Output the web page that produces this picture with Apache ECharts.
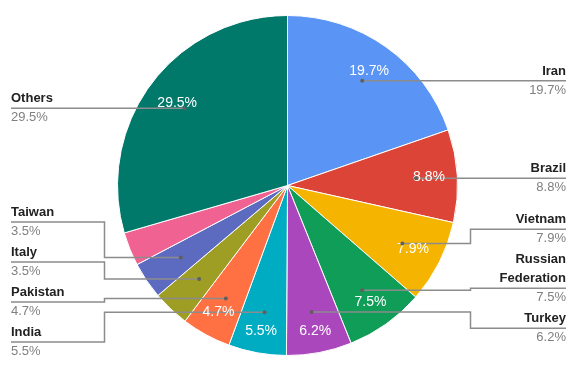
<!DOCTYPE html>
<html><head><meta charset="utf-8">
<script src="https://cdn.jsdelivr.net/npm/echarts@6/dist/echarts.min.js"></script>
<style>html,body{margin:0;padding:0;background:#fff}#c{width:581px;height:371px}</style>
</head><body><div id="c"></div>
<script>
var names = ['Iran','Brazil','Vietnam','Russian Federation','Turkey','India','Pakistan','Italy','Taiwan','Unlabeled','Others'];
var values = [19.7, 8.8, 7.9, 7.5, 6.2, 5.5, 4.7, 3.5, 3.5, 3.2, 29.5];
var colors = ['#5A95F5','#DB4437','#F4B400','#0F9D58','#AB47BC','#00ACC1','#FF7043','#9E9D24','#5C6BC0','#F06292','#00796B'];
var showLegendLabel = [true,true,true,true,true,true,true,true,true,false,true];
var showInsideLabel = [true,true,true,true,true,true,true,false,false,false,true];

var FONT = 'Arial, "Liberation Sans", sans-serif';
var CENTER = [287.5, 185.5];
var R = 170;
var LINE_H = 19;
var DOT_RATIO = 0.757;

var chart = echarts.init(document.getElementById('c'), null, {renderer: 'canvas'});

function nameLines(n){ return n.length > 12 ? n.split(' ') : [n]; }

function sliceGeom(i){
  var L = chart.getModel().getSeriesByIndex(0).getData().getItemLayout(i);
  var mid = (L.startAngle + L.endAngle) / 2;
  return {cx: L.cx, cy: L.cy, r: L.r, c: Math.cos(mid), s: Math.sin(mid)};
}

function computeLayout(){
  var W = chart.getWidth(), H = chart.getHeight();
  var right = [], left = [], all = {};
  for (var i = 0; i < values.length; i++){
    if (!showLegendLabel[i]) continue;
    var g = sliceGeom(i);
    var it = {
      dot: {x: g.cx + DOT_RATIO * g.r * g.c, y: g.cy + DOT_RATIO * g.r * g.s},
      nl: nameLines(names[i]).length,
      side: g.c >= 0 ? 'right' : 'left',
      cx: g.cx, r: g.r
    };
    (it.side === 'right' ? right : left).push(it);
    all[i] = it;
  }
  [right, left].forEach(function(arr){
    arr.sort(function(a,b){ return a.dot.y - b.dot.y; });
    var blocks = [];
    arr.forEach(function(it){
      blocks.push({items:[it], off:[0], y: it.dot.y});
      while (blocks.length > 1){
        var b2 = blocks[blocks.length-1], b1 = blocks[blocks.length-2];
        var gap = LINE_H + LINE_H * b2.items[0].nl + 2;
        var lastY = b1.y + b1.off[b1.off.length-1];
        if (b2.y - lastY >= gap) break;
        var base = b1.off[b1.off.length-1] + gap;
        b2.off.forEach(function(o){ b1.off.push(base + o); });
        b2.items.forEach(function(x){ b1.items.push(x); });
        var s = 0;
        b1.items.forEach(function(x,k){ s += x.dot.y - b1.off[k]; });
        b1.y = s / b1.items.length;
        blocks.pop();
      }
    });
    if (blocks.length){
      var lb = blocks[blocks.length-1];
      var bottom = lb.y + lb.off[lb.off.length-1] + LINE_H;
      if (bottom > H - 10) lb.y -= bottom - (H - 10);
    }
    blocks.forEach(function(b){ b.items.forEach(function(x,k){ x.lineY = b.y + b.off[k]; }); });
  });
  Object.keys(all).forEach(function(k){
    var it = all[k];
    if (it.side === 'right'){ it.end = W - 15; it.elbow = it.cx + it.r + 13; }
    else { it.end = 11; it.elbow = it.cx - it.r - 13; }
  });
  return all;
}

function seriesData(flags){
  return names.map(function(n,i){
    return {name: n, value: values[i], label: {show: flags[i]}};
  });
}

var ghost = {
  type: 'pie', center: CENTER, radius: [0, R], startAngle: 90, clockwise: true,
  silent: true, avoidLabelOverlap: false, emphasis: {disabled: true},
  itemStyle: {color: 'rgba(0,0,0,0)', borderWidth: 0}
};
function makeGhost(extra){ return Object.assign({}, ghost, extra); }

var option = {
  backgroundColor: '#ffffff',
  animation: false,
  series: [
    {
      type: 'pie', center: CENTER, radius: [0, R], startAngle: 90, clockwise: true,
      silent: true, emphasis: {disabled: true}, z: 1,
      itemStyle: {borderColor: '#ffffff', borderWidth: 1},
      label: {show: false}, labelLine: {show: false},
      data: names.map(function(n,i){ return {name: n, value: values[i], itemStyle: {color: colors[i]}}; })
    },
    makeGhost({
      z: 5,
      data: names.map(function(n,i){
        return {name: n, value: values[i], label: {show: showLegendLabel[i]}, labelLine: {show: showLegendLabel[i]}};
      }),
      label: {
        position: 'outside', fontFamily: FONT,
        formatter: function(p){
          return nameLines(p.name).map(function(l){ return '{n|' + l + '}'; }).join('\n') + '\n{v|' + p.value.toFixed(1) + '%}';
        },
        rich: {
          n: {fontFamily: FONT, fontSize: 13, fontWeight: 'bold', color: '#222222', lineHeight: LINE_H},
          v: {fontFamily: FONT, fontSize: 13, color: '#808080', lineHeight: LINE_H}
        }
      },
      labelLine: {show: true, length: 10, length2: 10, lineStyle: {color: '#8c8c8c', width: 1.5}},
      labelLayout: function(params){
        var it = computeLayout()[params.dataIndex];
        if (!it) return {};
        return {
          x: it.end, y: it.lineY + LINE_H,
          align: it.side === 'right' ? 'right' : 'left',
          verticalAlign: 'bottom',
          labelLinePoints: [[it.dot.x, it.dot.y], [it.elbow, it.dot.y], [it.elbow, it.lineY], [it.end, it.lineY]]
        };
      }
    }),
    makeGhost({
      z: 6,
      data: seriesData(showInsideLabel),
      labelLine: {show: false, length: 0, length2: 0},
      label: {position: 'outside', fontFamily: FONT, fontSize: 14, color: '#ffffff',
        formatter: function(p){ return p.value.toFixed(1) + '%'; }},
      labelLayout: function(params){
        var g = sliceGeom(params.dataIndex);
        var w = params.labelRect.width, h = params.labelRect.height;
        var rr = g.r - 12 - (w / 2 * Math.abs(g.c) + h / 2 * Math.abs(g.s));
        return {x: g.cx + rr * g.c, y: g.cy + rr * g.s, align: 'center', verticalAlign: 'middle'};
      }
    }),
    makeGhost({
      z: 7,
      data: seriesData(showLegendLabel),
      labelLine: {show: false, length: 0, length2: 0},
      label: {position: 'outside', formatter: '{d|}',
        rich: {d: {width: 4, height: 4, borderRadius: 2, backgroundColor: '#5f5f5f'}}},
      labelLayout: function(params){
        var g = sliceGeom(params.dataIndex);
        var rr = DOT_RATIO * g.r;
        return {x: g.cx + rr * g.c, y: g.cy + rr * g.s, align: 'center', verticalAlign: 'middle'};
      }
    })
  ]
};
chart.setOption(option);
</script>
</body></html>
